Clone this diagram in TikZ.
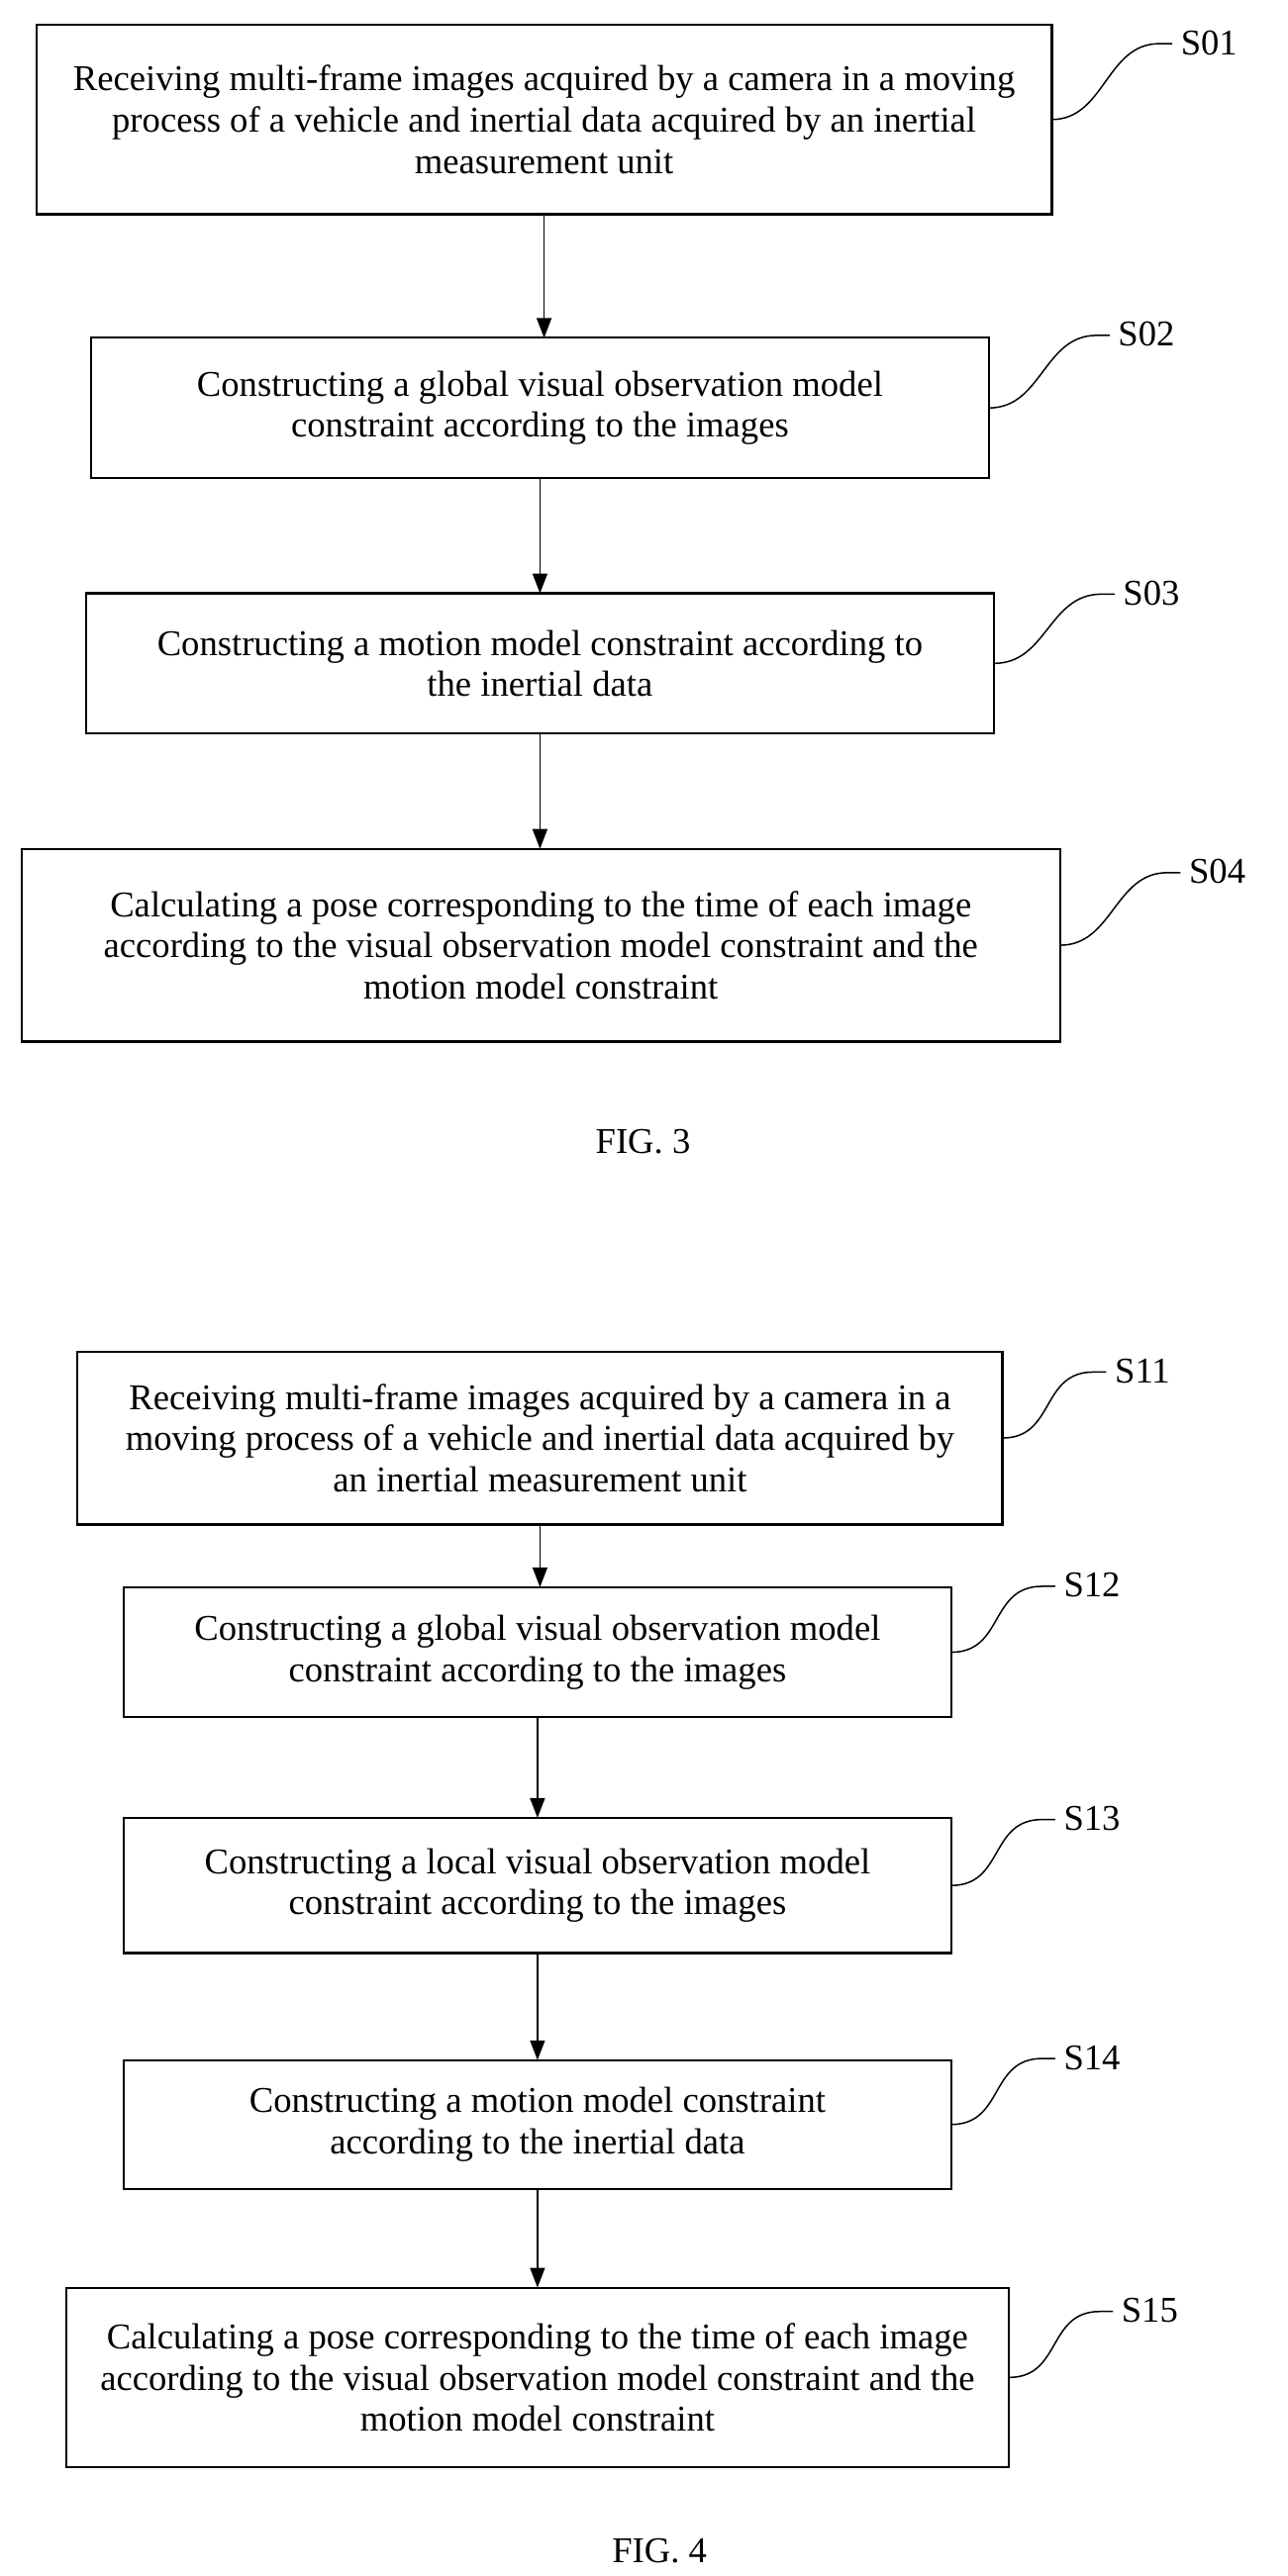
\documentclass[tikz,border=0pt]{standalone}
\usepackage{fontspec}
\setmainfont{Liberation Serif}
\usetikzlibrary{arrows.meta,calc}
\begin{document}
\begin{tikzpicture}[x=1pt,y=-1pt,
 box/.style={draw,line width=1.3pt,align=center,font=\fontsize{22}{25}\selectfont},
 lab/.style={anchor=south west,font=\fontsize{22}{25}\selectfont,inner sep=1pt},
 arr/.style={-{Triangle[length=12pt,width=9pt]},line width=0.9pt},
 sq/.style={line width=0.9pt}]
\useasboundingbox (0,0) rectangle (781,1563);
\def\bx#1#2#3#4#5#6{\draw[box] (#2,#3) rectangle (#4,#5); \node[box,draw=none] (#1) at ({(#2+#4)/2},{(#3+#5)/2}) {#6};
 \coordinate (#1n) at ({(#2+#4)/2},#3); \coordinate (#1s) at ({(#2+#4)/2},#5); \coordinate (#1e) at (#4,{(#3+#5)/2});}
\def\sl#1#2#3{\coordinate (#1t) at ($(#1e)+(#2,#3)$);
 \draw[sq] (#1e) .. controls +(32,0) and +(-32,0) .. (#1t) -- +(8,0);
 \node[lab] (#1l) at ($(#1t)+(12,8)$) {#1};}
\bx{S01}{22}{15}{638}{130}{Receiving multi-frame images acquired by a camera in a moving\\process of a vehicle and inertial data acquired by an inertial\\measurement unit}
\bx{S02}{55}{205}{600}{290}{Constructing a global visual observation model\\constraint according to the images}
\bx{S03}{52}{360}{603}{445}{Constructing a motion model constraint according to\\the inertial data}
\bx{S04}{13}{515}{643}{632}{Calculating a pose corresponding to the time of each image\\according to the visual observation model constraint and the\\motion model constraint}
\bx{S11}{47}{820}{608}{925}{Receiving multi-frame images acquired by a camera in a\\moving process of a vehicle and inertial data acquired by\\an inertial measurement unit}
\bx{S12}{75}{963}{577}{1042}{Constructing a global visual observation model\\constraint according to the images}
\bx{S13}{75}{1103}{577}{1185}{Constructing a local visual observation model\\constraint according to the images}
\bx{S14}{75}{1250}{577}{1328}{Constructing a motion model constraint\\according to the inertial data}
\bx{S15}{40}{1388}{612}{1497}{Calculating a pose corresponding to the time of each image\\according to the visual observation model constraint and the\\motion model constraint}
\sl{S01}{65}{-46}
\sl{S02}{65}{-44}
\sl{S03}{65}{-42}
\sl{S04}{65}{-44}
\sl{S11}{55}{-40}
\sl{S12}{55}{-40}
\sl{S13}{55}{-40}
\sl{S14}{55}{-40}
\sl{S15}{55}{-40}
\foreach \a/\b in {S01/S02,S02/S03,S03/S04,S11/S12,S12/S13,S13/S14,S14/S15}{\draw[arr] (\a s) -- (\a s |- \b n);}
\node[font=\fontsize{22}{25}\selectfont] (f3) at (390,693) {FIG. 3};
\node[font=\fontsize{22}{25}\selectfont] (f4) at (400,1548) {FIG. 4};
\end{tikzpicture}
\end{document}
